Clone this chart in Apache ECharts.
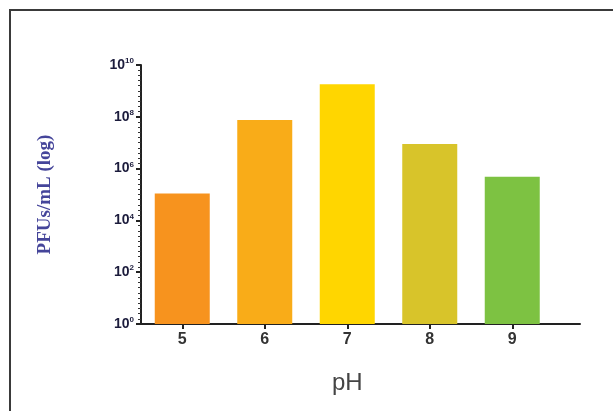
<!DOCTYPE html>
<html>
<head>
<meta charset="utf-8">
<script src="https://cdn.jsdelivr.net/npm/echarts@6/dist/echarts.min.js"></script>
<style>
  html, body { margin: 0; padding: 0; background: #fff; overflow: hidden; width: 613px; height: 411px; }
  #chart { width: 613px; height: 411px; position: absolute; left: 0; top: 0; }
  #ftop { position: absolute; left: 9px; top: 9px; width: 604px; height: 2px; background: #3a3a3a; }
  #fleft { position: absolute; left: 9px; top: 9px; width: 2px; height: 402px; background: #3a3a3a; }
</style>
</head>
<body>
<div id="chart"></div>
<div id="ftop"></div>
<div id="fleft"></div>
<script>
const categories = ['5', '6', '7', '8', '9'];
const pfuValues = [1.1e5, 7.5e7, 1.8e9, 9e6, 4.8e5];
const barColors = ['#F7931E', '#F9AC18', '#FFD600', '#D8C42A', '#7DC242'];
const yAxisName = 'PFUs/mL (log)';
const xAxisName = 'pH';

const chart = echarts.init(document.getElementById('chart'));
chart.setOption({
  animation: false,
  backgroundColor: '#fff',
  grid: [
    { left: 141, right: 59.5, top: 65, bottom: 87 },
    { left: 141, right: 33, top: 65, bottom: 87 }
  ],
  xAxis: [
    {
      type: 'category', gridIndex: 0, data: categories,
      axisLine: { show: false },
      axisTick: { show: true, alignWithLabel: true, length: 5, lineStyle: { color: '#222', width: 2 } },
      axisLabel: { fontSize: 16, fontWeight: 'bold', color: '#333', fontFamily: 'Arial, Liberation Sans', margin: 8 },
      name: xAxisName, nameLocation: 'middle', nameGap: 47,
      nameTextStyle: { fontSize: 24, color: '#444', fontFamily: 'Arial, Liberation Sans' }
    },
    {
      type: 'value', gridIndex: 1, min: 0, max: 1,
      axisLine: { show: true, lineStyle: { color: '#222', width: 2 } },
      axisTick: { show: false }, axisLabel: { show: false }, splitLine: { show: false }
    }
  ],
  yAxis: [
    {
      type: 'log', gridIndex: 0, logBase: 10, min: 1, max: 1e10, interval: 2,
      axisLine: { show: true, lineStyle: { color: '#222', width: 2 } },
      axisTick: { show: true, length: 5, lineStyle: { color: '#222', width: 2 } },
      splitLine: { show: false },
      axisLabel: {
        margin: 7,
        formatter: function (v) {
          const e = Math.round(Math.log10(v));
          return '{b|10}{s|' + e + '}';
        },
        rich: {
          b: { fontSize: 14, fontWeight: 'bold', color: '#1c1c3c', fontFamily: 'Arial, Liberation Sans' },
          s: { fontSize: 8, fontWeight: 'bold', color: '#1c1c3c', fontFamily: 'Arial, Liberation Sans', padding: [0, 0, 8, 0] }
        }
      },
      name: yAxisName, nameLocation: 'middle', nameRotate: 90, nameGap: 86,
      nameTextStyle: { fontSize: 19, fontWeight: 'bold', color: '#45459a', fontFamily: 'Liberation Serif, DejaVu Serif, serif' }
    },
    {
      type: 'value', gridIndex: 1, min: 0, max: 1, show: false
    },
    {
      type: 'value', gridIndex: 0, position: 'left', offset: 0, min: 0, max: 10, interval: 2,
      axisLine: { show: false }, axisTick: { show: false }, axisLabel: { show: false }, splitLine: { show: false },
      minorTick: { show: true, splitNumber: 10, length: 3, lineStyle: { color: '#333', width: 1 } }
    }
  ],
  series: [
    {
      type: 'bar', xAxisIndex: 0, yAxisIndex: 0,
      barWidth: 55,
      data: pfuValues.map(function (v, i) { return { value: v, itemStyle: { color: barColors[i] } }; })
    }
  ]
});
</script>
</body>
</html>
